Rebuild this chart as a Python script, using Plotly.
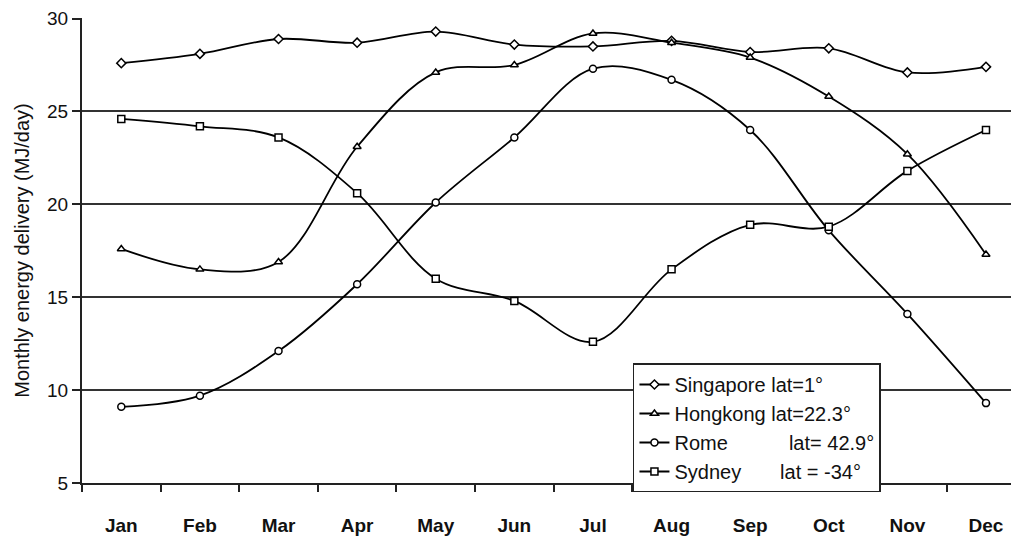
import plotly.graph_objects as go

months = ["Jan", "Feb", "Mar", "Apr", "May", "Jun", "Jul", "Aug", "Sep", "Oct", "Nov", "Dec"]
singapore = [27.6, 28.1, 28.9, 28.7, 29.3, 28.6, 28.5, 28.8, 28.2, 28.4, 27.1, 27.4]
hongkong = [17.6, 16.5, 16.9, 23.1, 27.1, 27.5, 29.2, 28.7, 27.9, 25.8, 22.7, 17.3]
rome = [9.1, 9.7, 12.1, 15.7, 20.1, 23.6, 27.3, 26.7, 24.0, 18.6, 14.1, 9.3]
sydney = [24.6, 24.2, 23.6, 20.6, 16.0, 14.8, 12.6, 16.5, 18.9, 18.8, 21.8, 24.0]

NB = "\u00a0"
series = [
    ("Singapore lat=1°", singapore, "diamond"),
    ("Hongkong lat=22.3°", hongkong, "triangle-up"),
    ("Rome" + NB * 11 + "lat= 42.9°", rome, "circle"),
    ("Sydney" + NB * 7 + "lat = -34°", sydney, "square"),
]

fig = go.Figure()
for name, vals, sym in series:
    fig.add_trace(go.Scatter(
        x=months, y=vals, name=name, mode="lines+markers",
        line=dict(color="black", width=1.8, shape="spline", smoothing=1.0),
        marker=dict(symbol=sym, size=7, color="white",
                    line=dict(color="black", width=1.5)),
    ))

FONT = "Liberation Sans, Arial, sans-serif"
fig.update_layout(
    width=1011, height=528,
    margin=dict(l=74, r=0, t=8, b=53),
    paper_bgcolor="white", plot_bgcolor="white",
    font=dict(family=FONT, color="black"),
    showlegend=True,
    legend=dict(
        x=0.588, y=0.257, xanchor="left", yanchor="top",
        bgcolor="white", bordercolor="#222", borderwidth=1.5,
        font=dict(size=20, color="#111"),
        tracegroupgap=0, itemwidth=30,
    ),
    xaxis=dict(
        type="category", range=[-0.5, 11.42],
        tickson="boundaries", ticks="outside", ticklen=7, tickwidth=1.5,
        tickcolor="#222", showgrid=False, showline=True,
        linecolor="#222", linewidth=2,
        tickfont=dict(size=19, family=FONT, color="#111", weight="bold"),
        ticklabelstandoff=24,
    ),
    yaxis=dict(
        range=[5, 30.03], tickvals=[5, 10, 15, 20, 25, 30],
        ticks="outside", ticklen=8, tickwidth=1.5, tickcolor="#222",
        showgrid=True, gridcolor="#333", gridwidth=1.5,
        showline=True, linecolor="#222", linewidth=2,
        zeroline=False, ticklabeloverflow="allow",
        tickfont=dict(size=19, color="#111"),
        title=dict(text="Monthly energy delivery (MJ/day)", font=dict(size=20, color="#111"), standoff=12),
    ),
)

fig.write_html("out.html")
